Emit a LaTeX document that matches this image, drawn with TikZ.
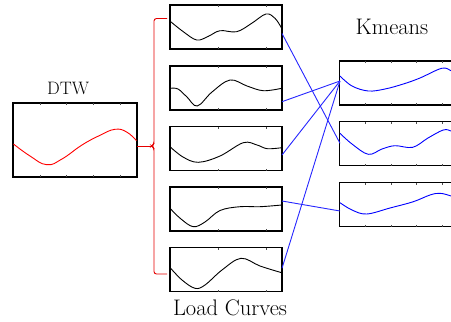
\documentclass[tikz,border=0pt]{standalone}
\usetikzlibrary{calc}
\begin{document}
\begin{tikzpicture}[x=1pt,y=-1pt,
  plotbox/.style={draw=black, line width=1.2pt, inner sep=0pt, outer sep=0pt, anchor=north west, fill=none},
  tickmark/.style={draw=black!70, line width=0.6pt},
  series/.style={line width=0.9pt},
  link/.style={draw=blue!85!white, line width=0.9pt},
  bracket/.style={draw=red!90!black, line width=0.9pt},
  bigtitle/.style={font=\fontsize{22.5}{27}\selectfont, anchor=base, inner sep=0pt},
  smalltitle/.style={font=\fontsize{18}{21}\selectfont, anchor=base, inner sep=0pt}]
\clip (0,0) rectangle (451,322);

% ---------- averaged curve (DTW) ----------
\node[plotbox, minimum width=124pt, minimum height=74pt] (dtw) at (13,103) {};
\foreach \x in {40,66.7,93.3,120} {
  \draw[tickmark] (\x,103) -- ++(0,2);
  \draw[tickmark] (\x,177) -- ++(0,-2);
}
\draw[series, red] plot[smooth, tension=0.75] coordinates {
  (13.5,144) (30,156) (46.7,164.7) (62,159) (82,145) (100,135.3)
  (115,129.3) (126.7,132) (136.5,140.7)};
\node[smalltitle] (dtwtitle) at (68,94) {DTW};

% ---------- individual load curves ----------
\foreach \t/\n in {5/1,66/2,126.5/3,187/4,247.5/5} {
  \node[plotbox, minimum width=112pt, minimum height=44pt] (lc\n) at (170,\t) {};
  \foreach \x in {218.3,266.7} {
    \draw[tickmark] (\x,\t) -- ++(0,2);
    \draw[tickmark] (\x,\t+44) -- ++(0,-2);
  }
}
\draw[series] plot[smooth, tension=0.6] coordinates {
  (170.7,21.7) (183.3,31.7) (196.7,40) (208,36.5) (220,30.7) (236.7,31.7)
  (251.7,23.3) (266,14) (275,18.3) (281.7,28.3)};
\draw[series] plot[smooth, tension=0.6] coordinates {
  (170.7,88.3) (178,89) (187,97) (197.3,106) (212,92) (230,80)
  (247,86) (263.3,90.7) (281.7,88.3)};
\draw[series] plot[smooth, tension=0.6] coordinates {
  (170.7,147.3) (183,157) (198.3,162.3) (220,156) (243.3,142.7)
  (257,145) (267.3,148.7) (281.7,147.7)};
\draw[series] plot[smooth, tension=0.6] coordinates {
  (170.7,209) (181,219) (193.3,226.7) (205,222) (220,210.5)
  (240,206.7) (260,206.7) (281.7,205)};
\draw[series] plot[smooth, tension=0.6] coordinates {
  (170.7,268.3) (182,280) (195,288.3) (205,285) (222,270)
  (241,258.3) (260,266) (281.7,272.7)};
\node[bigtitle] (lctitle) at (230,315) {Load Curves};

% ---------- cluster centres (Kmeans) ----------
\foreach \t/\n in {61/1,121.7/2,182.7/3} {
  \node[plotbox, minimum width=120pt, minimum height=44pt] (km\n) at (339.5,\t) {};
  \foreach \x in {365.7,391.3,416.7,442.3} {
    \draw[tickmark] (\x,\t) -- ++(0,2);
    \draw[tickmark] (\x,\t+44) -- ++(0,-2);
  }
}
\draw[series, blue] plot[smooth, tension=0.6] coordinates {
  (340,76) (352,86) (368.3,91) (385,89) (403.3,84) (420,78)
  (441.7,68.3) (451,70.7) (457,74)};
\draw[series, blue] plot[smooth, tension=0.6] coordinates {
  (340,133.3) (352,144) (368.3,154.3) (382,149) (395,145.7)
  (412.7,147.3) (428,138) (443.3,130) (451,131) (457,134)};
\draw[series, blue] plot[smooth, tension=0.6] coordinates {
  (340,202.7) (352,210) (366.7,214) (390,208) (413.3,201.7)
  (430,195) (440,193.3) (451,196) (457,199)};
\node[bigtitle] (kmtitle) at (392,34) {Kmeans};

% ---------- bracket grouping the load curves ----------
\coordinate (dtwout) at (137,146);
\coordinate (braceTip) at (151.5,146);
\draw[bracket] (dtwout) -- (braceTip);
\draw[bracket, rounded corners=2.5pt]
  (167,18.5) -- (154,18.5) -- (154,144) -- (braceTip) -- (154,148) -- (154,274) -- (167,274);

% ---------- cluster assignments ----------
\coordinate (lc1out) at (282,33.5);
\coordinate (lc2out) at (282,101.7);
\coordinate (lc3out) at (282,155);
\coordinate (lc4out) at (282,201);
\coordinate (lc5out) at (282,268.3);
\coordinate (km1in) at (340,81);
\coordinate (km2in) at (340,143.3);
\coordinate (km3in) at (340,211);
\draw[link] (lc1out) -- (km2in);
\draw[link] (lc2out) -- (km1in);
\draw[link] (lc3out) -- (km1in);
\draw[link] (lc4out) -- (km3in);
\draw[link] (lc5out) -- (km1in);
\end{tikzpicture}
\end{document}
